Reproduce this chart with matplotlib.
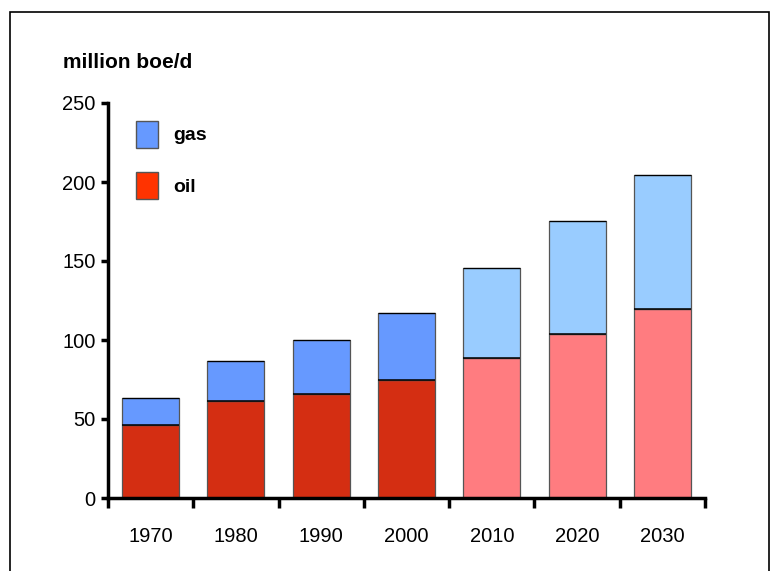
import matplotlib
matplotlib.use("Agg")
import matplotlib.pyplot as plt
from matplotlib.patches import Patch, Rectangle
import numpy as np

plt.rcParams['font.family'] = ['Liberation Sans', 'DejaVu Sans']

years = ["1970", "1980", "1990", "2000", "2010", "2020", "2030"]
oil = [46.2, 61.4, 65.6, 74.5, 88.8, 103.6, 119.4]
gas_total = [63.3, 86.5, 100.0, 116.9, 145.4, 175.1, 204.2]
gas = [t - o for t, o in zip(gas_total, oil)]

# historic vs projected colours
oil_colors = ['#D42E12'] * 4 + ['#FF7C80'] * 3
gas_colors = ['#6699FF'] * 4 + ['#99CCFF'] * 3

fig = plt.figure(figsize=(7.7, 5.71), dpi=100)
ax = fig.add_axes([108 / 770, 1 - 498 / 571, 597 / 770, 395 / 571])

x = np.arange(len(years))
ax.bar(x, oil, width=0.67, color=oil_colors, edgecolor='#555555', linewidth=0.9)
ax.bar(x, gas, bottom=oil, width=0.67, color=gas_colors, edgecolor='#555555', linewidth=0.9)
# black line where oil meets gas, and on top
ax.hlines(oil, x - 0.335, x + 0.335, color='black', linewidth=1.1)
ax.hlines(gas_total, x - 0.335, x + 0.335, color='black', linewidth=0.9)

ax.set_xlim(-0.5, len(years) - 0.5)
ax.set_ylim(0, 250)
ax.set_yticks([0, 50, 100, 150, 200, 250])
ax.set_xticks(x)
ax.set_xticklabels(years)
ax.set_xticks(np.arange(-0.5, len(years)), minor=True)
ax.tick_params(axis='x', which='major', length=0, pad=21, labelsize=14.5)
ax.tick_params(axis='x', which='minor', length=7, width=2.5, direction='out')
ax.tick_params(axis='y', length=5, width=2.5, pad=4, labelsize=14.5)

for s in ['top', 'right']:
    ax.spines[s].set_visible(False)
for s in ['left', 'bottom']:
    ax.spines[s].set_linewidth(2.5)
    ax.spines[s].set_capstyle('projecting')

fig.text(63 / 770, 1 - 62 / 571, "million boe/d", fontsize=15, fontweight='bold',
         va='center', ha='left')

handles = [Patch(facecolor='#6699FF', edgecolor='#555555', label='gas'),
           Patch(facecolor='#FF3300', edgecolor='#555555', label='oil')]
leg = ax.legend(handles=handles, loc='upper left', bbox_to_anchor=(0.018, 1.0),
                frameon=False, handlelength=1.13, handleheight=1.76,
                labelspacing=1.27, handletextpad=0.75,
                prop={'weight': 'bold', 'size': 14})

# frame around the figure (bottom edge falls outside the image)
fig.patches.append(Rectangle((10 / 770, -0.05), 759 / 770, 1.05 - 12 / 571,
                             transform=fig.transFigure, fill=False,
                             edgecolor='black', linewidth=1.2, clip_on=False))

fig.savefig("out.png", dpi=100)
